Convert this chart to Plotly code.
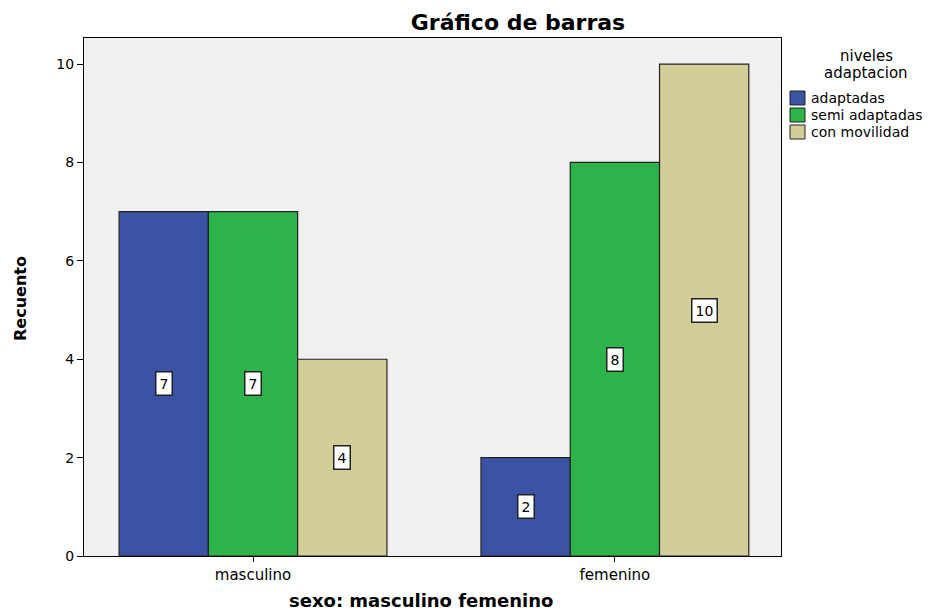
import plotly.graph_objects as go

categories = ["masculino", "femenino"]
series_names = ["adaptadas", "semi adaptadas", "con movilidad"]
adaptadas = [7, 2]
semi_adaptadas = [7, 8]
con_movilidad = [4, 10]
colors = ["#3a53a4", "#2db34a", "#d3cd98"]
y_ticks = [0, 2, 4, 6, 8, 10]

FONT = "DejaVu Sans, Verdana, sans-serif"
W, H = 942, 613
ML, MR, MT, MB = 84, 161, 38, 57
PW, PH = W - ML - MR, H - MT - MB


def px(x):
    return (x - ML) / PW


def py(y):
    return (H - MB - y) / PH


series = [adaptadas, semi_adaptadas, con_movilidad]
xs = list(range(len(categories)))
bw = 0.2467
offsets = [-bw, 0, bw]

fig = go.Figure()
for name, vals, col, off in zip(series_names, series, colors, offsets):
    fig.add_trace(go.Bar(
        x=[x + off for x in xs], y=vals, name=name, width=bw, showlegend=False,
        marker=dict(color=col, line=dict(color="#222222", width=1.2)),
    ))
    for x, v in zip(xs, vals):
        fig.add_annotation(x=x + off, y=v / 2, xref="x", yref="y", text=str(v),
                           showarrow=False, bgcolor="white", bordercolor="#222222",
                           borderwidth=1.5, borderpad=3,
                           font=dict(family=FONT, size=14, color="black"))

# legend (title + swatches) placed to the right of the plot
fig.add_annotation(x=px(866), y=py(56), xref="paper", yref="paper", showarrow=False,
                   text="niveles", xanchor="center", yanchor="middle",
                   font=dict(family=FONT, size=15, color="black"))
fig.add_annotation(x=px(866), y=py(73), xref="paper", yref="paper", showarrow=False,
                   text="adaptacion", xanchor="center", yanchor="middle",
                   font=dict(family=FONT, size=15, color="black"))
for i, (name, col) in enumerate(zip(series_names, colors)):
    yc = 98 + 17 * i
    fig.add_shape(type="rect", xref="paper", yref="paper",
                  x0=px(790), x1=px(805), y0=py(yc - 7), y1=py(yc + 7),
                  fillcolor=col, line=dict(color="#222222", width=1))
    fig.add_annotation(x=px(809), y=py(yc), xref="paper", yref="paper", showarrow=False,
                       text=name, xanchor="left", yanchor="middle",
                       font=dict(family=FONT, size=14, color="black"))

# axis titles
fig.add_annotation(x=px(421), y=py(600), xref="paper", yref="paper", showarrow=False,
                   text="<b>sexo: masculino femenino</b>", xanchor="center", yanchor="middle",
                   font=dict(family=FONT, size=18, color="black"))
fig.add_annotation(x=px(20), y=py(299), xref="paper", yref="paper", showarrow=False,
                   text="<b>Recuento</b>", textangle=-90, xanchor="center", yanchor="middle",
                   font=dict(family=FONT, size=16, color="black"))

fig.update_layout(
    width=W, height=H,
    margin=dict(l=ML, r=MR, t=MT, b=MB, autoexpand=False),
    paper_bgcolor="white", plot_bgcolor="#f0f0f0",
    barmode="overlay",
    font=dict(family=FONT, size=14, color="black"),
    title=dict(text="<b>Gráfico de barras</b>", x=518 / W, xanchor="center",
               y=1 - 22 / H, yanchor="middle", font=dict(size=22)),
    showlegend=False,
    xaxis=dict(tickmode="array", tickvals=xs, ticktext=categories, range=[-0.467, 1.459],
               showgrid=False, zeroline=False, showline=True, linecolor="black", linewidth=1,
               mirror=True, ticks="outside", ticklen=5, tickcolor="black", automargin=False,
               tickfont=dict(size=15)),
    yaxis=dict(tickmode="array", tickvals=y_ticks, range=[0, 10.53],
               showgrid=False, zeroline=False, showline=True, linecolor="black", linewidth=1,
               mirror=True, ticks="outside", ticklen=6, tickcolor="black", automargin=False,
               tickfont=dict(size=14)),
)

fig.write_html("out.html")
